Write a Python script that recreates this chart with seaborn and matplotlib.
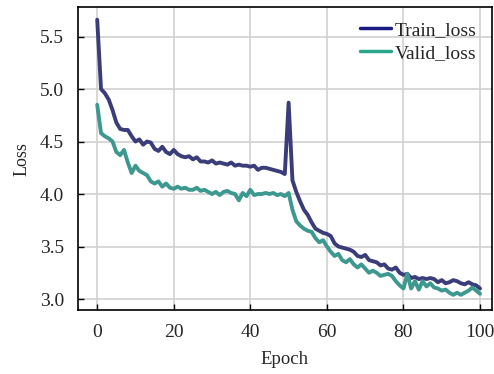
import numpy as np
import pandas as pd
import matplotlib
matplotlib.use('Agg')
import matplotlib.pyplot as plt
from matplotlib.lines import Line2D
import seaborn as sns

# values
epochs = list(range(101))
train_loss = [
    5.66, 5.00, 4.96, 4.90, 4.80, 4.68, 4.62, 4.61, 4.61, 4.55,
    4.50, 4.52, 4.47, 4.50, 4.49, 4.43, 4.41, 4.45, 4.40, 4.38,
    4.42, 4.38, 4.36, 4.35, 4.36, 4.33, 4.35, 4.31, 4.31, 4.30,
    4.32, 4.29, 4.30, 4.29, 4.28, 4.30, 4.27, 4.28, 4.27, 4.27,
    4.26, 4.27, 4.23, 4.25, 4.25, 4.24, 4.23, 4.22, 4.21, 4.19,
    4.87, 4.13, 4.02, 3.93, 3.85, 3.80, 3.73, 3.67, 3.65, 3.63,
    3.62, 3.60, 3.53, 3.50, 3.49, 3.48, 3.47, 3.45, 3.41, 3.40,
    3.42, 3.37, 3.36, 3.35, 3.32, 3.33, 3.29, 3.28, 3.30, 3.25,
    3.23, 3.24, 3.20, 3.21, 3.19, 3.20, 3.19, 3.20, 3.19, 3.16,
    3.18, 3.15, 3.16, 3.18, 3.17, 3.15, 3.14, 3.16, 3.14, 3.13,
    3.10,
]
valid_loss = [
    4.85, 4.58, 4.55, 4.53, 4.50, 4.40, 4.37, 4.42, 4.30, 4.20,
    4.27, 4.22, 4.20, 4.18, 4.12, 4.10, 4.12, 4.07, 4.10, 4.06,
    4.05, 4.07, 4.05, 4.06, 4.04, 4.04, 4.06, 4.03, 4.04, 4.02,
    4.00, 4.02, 3.99, 4.02, 4.03, 4.01, 4.00, 3.94, 4.01, 3.98,
    4.04, 3.99, 4.00, 4.00, 4.01, 4.00, 4.01, 3.99, 4.00, 3.98,
    4.01, 3.85, 3.74, 3.70, 3.67, 3.65, 3.64, 3.58, 3.54, 3.56,
    3.50, 3.45, 3.41, 3.43, 3.37, 3.35, 3.38, 3.33, 3.30, 3.33,
    3.29, 3.25, 3.27, 3.25, 3.22, 3.23, 3.24, 3.22, 3.17, 3.13,
    3.10, 3.24, 3.10, 3.17, 3.09, 3.17, 3.12, 3.15, 3.11, 3.10,
    3.08, 3.09, 3.06, 3.04, 3.06, 3.04, 3.06, 3.08, 3.11, 3.08,
    3.05,
]
series_names = ['Train_loss', 'Valid_loss']
line_colors = ['#3a3d7a', '#3d9990']
legend_colors = ['#1a1a85', '#2aa68a']

df = pd.DataFrame({
    'Epoch': epochs * 2,
    'Loss': train_loss + valid_loss,
    'Series': [series_names[0]] * len(epochs) + [series_names[1]] * len(epochs),
})

sns.set_theme(style='whitegrid')
plt.rcParams['font.family'] = ['Liberation Serif', 'DejaVu Serif']

fig = plt.figure(figsize=(4.94, 3.74), dpi=100)
ax = fig.add_axes([0.158, 0.171, 0.837, 0.81])

sns.lineplot(data=df, x='Epoch', y='Loss', hue='Series', palette=line_colors,
             linewidth=2.8, ax=ax, legend=False)

ax.set_xlim(-5, 103)
ax.set_ylim(2.895, 5.78)
ax.set_xticks([0, 20, 40, 60, 80, 100])
ax.set_yticks([3.0, 3.5, 4.0, 4.5, 5.0, 5.5])
ax.set_xlabel('Epoch', fontsize=13.5, labelpad=7)
ax.set_ylabel('Loss', fontsize=13, labelpad=7)
ax.tick_params(axis='both', labelsize=14, direction='in', length=4, width=1,
               color='black', bottom=True, left=True, pad=10)
ax.grid(True, color='#d4d4d4', linewidth=1.3)
for sp in ax.spines.values():
    sp.set_color('black')
    sp.set_linewidth(1.2)

handles = [Line2D([0], [0], color=c, linewidth=2.5) for c in legend_colors]
ax.legend(handles, series_names, loc='upper right', frameon=False, fontsize=14,
          handlelength=1.6, handletextpad=0.2, borderaxespad=0.35, labelspacing=0.25)

fig.savefig('out.png', dpi=100)
